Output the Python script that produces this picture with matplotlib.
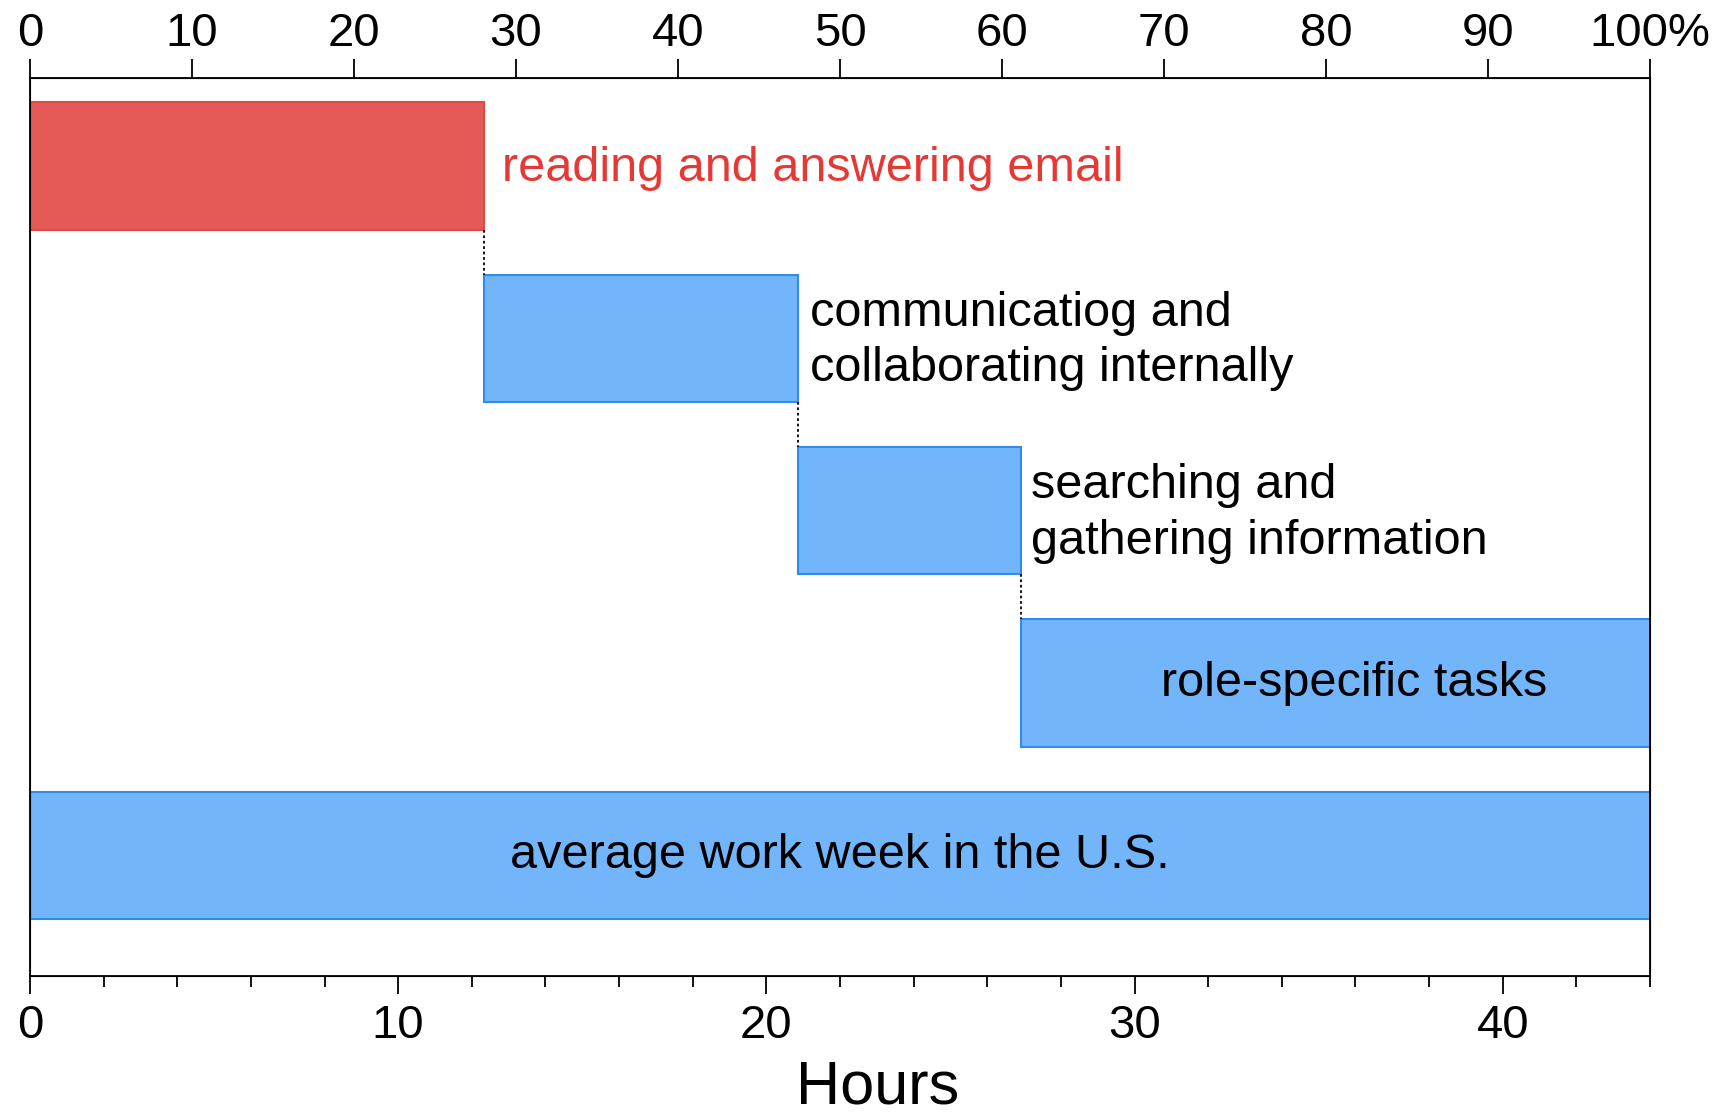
import matplotlib.pyplot as plt
import numpy as np

plt.rcParams["font.family"] = ["Liberation Sans", "DejaVu Sans"]

# share of the work week per task, percent
tasks = ["reading and answering email",
         "communicatiog and\ncollaborating internally",
         "searching and\ngathering information",
         "role-specific tasks"]
shares = [28, 19.4, 13.8, 38.8]
week_label = "average work week in the U.S."
week_hours = 44

hour_ticks = [0, 10, 20, 30, 40]
hour_minor = list(range(0, 46, 2))
pct_ticks = [0, 10, 20, 30, 40, 50, 60, 70, 80, 90, 100]
pct_labels = ["0", "10", "20", "30", "40", "50", "60", "70", "80", "90", "100%"]

blue_fill, blue_edge = "#72b5fb", "#2f8ceb"
red_fill, red_edge = "#e55a56", "#e04a46"
red_text = "#e53935"

fig = plt.figure(figsize=(17.25, 11.16), dpi=100)
ax = fig.add_axes([0.0174, 0.1254, 0.9391, 0.8047])

hours = np.array(shares) / 100 * week_hours
starts = np.concatenate([[0], np.cumsum(hours)[:-1]])
h = 0.74

for i, (s, w) in enumerate(zip(starts, hours)):
    fc, ec = (red_fill, red_edge) if i == 0 else (blue_fill, blue_edge)
    ax.barh(i, w, left=s, height=h, color=fc, edgecolor=ec, linewidth=1.5)
    if i < len(hours) - 1:
        ax.plot([s + w, s + w], [i + h / 2, i + 1 - h / 2], color="black",
                linestyle=(0, (1.5, 1.5)), linewidth=1.3)

ax.barh(4, week_hours, left=0, height=h, color=blue_fill, edgecolor=blue_edge, linewidth=1.5)

fs = 35
ax.annotate(tasks[0], (starts[0] + hours[0], 0), xytext=(13, -2), textcoords="offset points",
            va="center", ha="left", fontsize=fs, color=red_text)
ax.annotate(tasks[1], (starts[1] + hours[1], 1), xytext=(9, -2), textcoords="offset points",
            va="center", ha="left", fontsize=fs, linespacing=1.3)
ax.annotate(tasks[2], (starts[2] + hours[2], 2), xytext=(7, -2), textcoords="offset points",
            va="center", ha="left", fontsize=fs, linespacing=1.3)
ax.text(starts[3] + hours[3] / 2 + 0.5, 3, tasks[3], va="center", ha="center", fontsize=fs)
ax.text(week_hours / 2, 4, week_label, va="center", ha="center", fontsize=fs)

ax.set_xlim(0, week_hours)
ax.set_ylim(4.70, -0.51)
ax.set_yticks([])
ax.set_xticks(hour_ticks)
ax.set_xticks(hour_minor, minor=True)
ax.tick_params(axis="x", which="major", direction="out", length=13, width=1.3,
               labelsize=34, pad=7)
ax.tick_params(axis="x", which="minor", direction="out", length=8, width=1.3)
ax.set_xlabel("Hours", fontsize=44)
ax.xaxis.set_label_coords(0.523, -0.093)
for sp in ax.spines.values():
    sp.set_linewidth(1.3)

ax2 = ax.twiny()
ax2.set_xlim(0, 100)
ax2.set_xticks(pct_ticks)
ax2.set_xticklabels(pct_labels)
ax2.tick_params(axis="x", direction="out", length=14, width=1.3, labelsize=34, pad=2)

fig.savefig("out.png")
